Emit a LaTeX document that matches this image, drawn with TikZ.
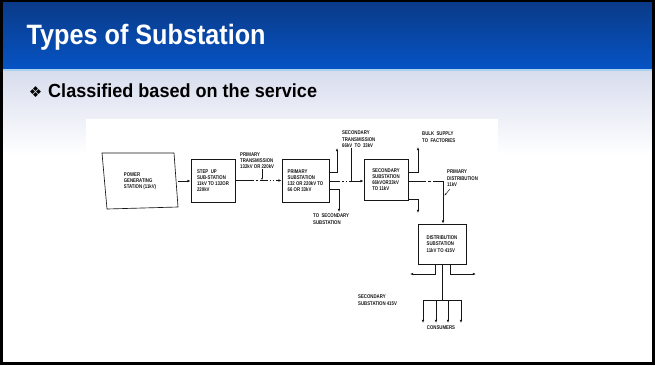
\documentclass[tikz,border=0pt]{standalone}
\usepackage{fontspec}
\setmainfont{Liberation Sans}
\newfontfamily\titlefont[FakeStretch=0.9]{Liberation Sans}
\newfontfamily\subfont[FakeStretch=0.95]{Liberation Sans}
\newfontfamily\diagfont[FakeStretch=0.8]{Liberation Sans}
\newfontfamily\symfont{DejaVu Sans}
\usetikzlibrary{arrows.meta}

\definecolor{hdtop}{HTML}{0A3A86}
\definecolor{hdbot}{HTML}{0653C4}
\definecolor{hdline}{HTML}{A9D2F0}
\definecolor{bandtop}{HTML}{D8DDEE}
\definecolor{ink}{HTML}{161616}

\newcommand{\diagtext}{\diagfont\bfseries\fontsize{5.4}{6.2}\selectfont}

\begin{document}
\begin{tikzpicture}[x=1pt,y=-1pt,
  stagebox/.style={draw=ink, line width=0.65pt, align=left, inner sep=0pt,
                   font=\diagtext, text=ink},
  note/.style={align=left, inner sep=0pt, font=\diagtext, text=ink},
  wire/.style={draw=ink, line width=0.65pt},
  feed/.style={wire, -{Latex[length=3.2pt,width=2.6pt]}},
  pointer/.style={draw=ink, line width=0.45pt, -{Latex[length=2pt,width=1.8pt]}}]

\useasboundingbox (0,0) rectangle (655,365);

% slide background, header bar and fading band
\fill[white] (0,0) rectangle (655,365);
\shade[top color=hdtop, bottom color=hdbot] (0,0) rectangle (655,68.5);
\fill[hdline] (0,68.5) rectangle (655,71.5);
\shade[top color=bandtop, bottom color=white] (0,71.5) rectangle (655,155);

% sheet holding the block diagram
\fill[white] (86,119) rectangle (498,345);

% slide frame
\draw[black, line width=2.6pt] (1.3,0.6) rectangle (653.7,363.7);

% heading and bullet
\node[anchor=base west, inner sep=0pt, text=white,
      font=\titlefont\bfseries\fontsize{28}{30}\selectfont] (title) at (26.5,44.5) {Types of Substation};
\node[inner sep=0pt, font=\symfont\fontsize{15}{16}\selectfont] (bullet) at (35.5,92.2) {❖};
\node[anchor=base west, inner sep=0pt,
      font=\subfont\bfseries\fontsize{19}{20}\selectfont] (subtitle) at (48,97.7) {Classified based on the service};

% ---------------- stages ----------------
\draw[wire] (102,153) -- (174,153) -- (178,207) -- (107,209) -- cycle;
\node[note, minimum width=76pt, minimum height=55pt] (gen) at (140,181)
  {POWER\\GENERATING\\STATION (11kV)};

\node[stagebox, minimum width=44pt, minimum height=43pt] (stepup) at (213,180.5)
  {STEP\ \ UP\\SUB-STATION\\11kV TO 132OR\\220kV};

\node[stagebox, minimum width=47pt, minimum height=43pt] (primss) at (305.5,180.5)
  {PRIMARY\\SUBSTATION\\132 OR 220kV TO\\66 OR 33kV};

\node[stagebox, minimum width=44pt, minimum height=41pt] (secss) at (386,179.5)
  {SECONDARY\\SUBSTATION\\66kVOR33kV\\TO 11kV};

\node[stagebox, minimum width=48pt, minimum height=40pt] (distss) at (442,244)
  {DISTRIBUTION\\SUBSTATION\\11kV TO 415V};

% ---------------- labels ----------------
\node[note, anchor=north west] (ptlabel) at (240,152.5) {PRIMARY\\TRANSMISSION\\132kV OR 220kV};
\node[note, anchor=north west] (stlabel) at (342,131) {SECONDARY\\TRANSMISSION\\66kV\ \ TO\ \ 33kV};
\node[note, anchor=north west] (tosec) at (313,214) {TO\ \ SECONDARY\\SUBSTATION};
\node[note, anchor=north west] (bulk) at (422,132) {BULK\ \ SUPPLY\\TO\ \ FACTORIES};
\node[note, anchor=north west] (pdlabel) at (447,170) {PRIMARY\\DISTRIBUTION\\11kV};
\node[note, anchor=north west] (sslabel) at (358,295) {SECONDARY\\SUBSTATION 415V};
\node[note] (consumers) at (441,328) {CONSUMERS};

% ---------------- connectors ----------------
\draw[feed] (gen.east) -- (gen.east -| stepup.west);

\draw[feed, dash pattern=on 19pt off 2pt on 2pt off 2pt on 8pt off 2pt on 1pt off 2pt on 1pt off 2pt on 30pt]
  (stepup.east) -- (stepup.east -| primss.west);
\coordinate (ptfoot) at (262,180);
\draw[pointer] (ptlabel.south -| ptfoot) -- (ptfoot);

% primary substation outlets
\coordinate (pup) at (337,148);
\coordinate (pdown) at (339,212);
\draw[feed] (primss.east |- 0,172) -| (pup);
\draw[feed] (primss.east |- 0,189) -| (pdown);
\draw[feed, dash pattern=on 11pt off 2pt on 2pt off 2pt on 1pt off 2pt on 40pt]
  (primss.east |- 0,181) -- (secss.west |- 0,181);
\coordinate (stfoot) at (351,181);
\draw[wire, line width=0.5pt] (stlabel.south -| stfoot) -- (stfoot);

% secondary substation outlets
\coordinate (sup) at (418,147);
\coordinate (sdown) at (418,213);
\draw[feed] (secss.east |- 0,172) -| (sup);
\draw[feed] (secss.east |- 0,199) -| (sdown);
\coordinate (pdbend) at (443,181);
\draw[feed, dash pattern=on 18pt off 2pt on 3pt off 2pt on 80pt]
  (secss.east |- pdbend) -- (pdbend) -- (pdbend |- distss.north);
\coordinate (pdtip) at (444.5,195.5);
\draw[pointer] (450,189) -- (pdtip);

% distribution substation outlets
\coordinate (dleft) at (410,274);
\coordinate (dright) at (476,274);
\draw[feed] (distss.south -| 435,0) |- (dleft);
\draw[feed] (distss.south -| 450,0) |- (dright);
\coordinate (bus) at (442,300);
\draw[wire] (distss.south -| bus) -- (bus);
\coordinate (busw) at (423,300);
\coordinate (buse) at (461,300);
\draw[wire] (busw) -- (buse);
\foreach \cx/\nm in {423/ca, 436/cb, 448/cc, 461/cd}{
  \coordinate (\nm) at (\cx,323);
  \draw[feed] (\cx,300) -- (\nm);
}
\end{tikzpicture}
\end{document}
